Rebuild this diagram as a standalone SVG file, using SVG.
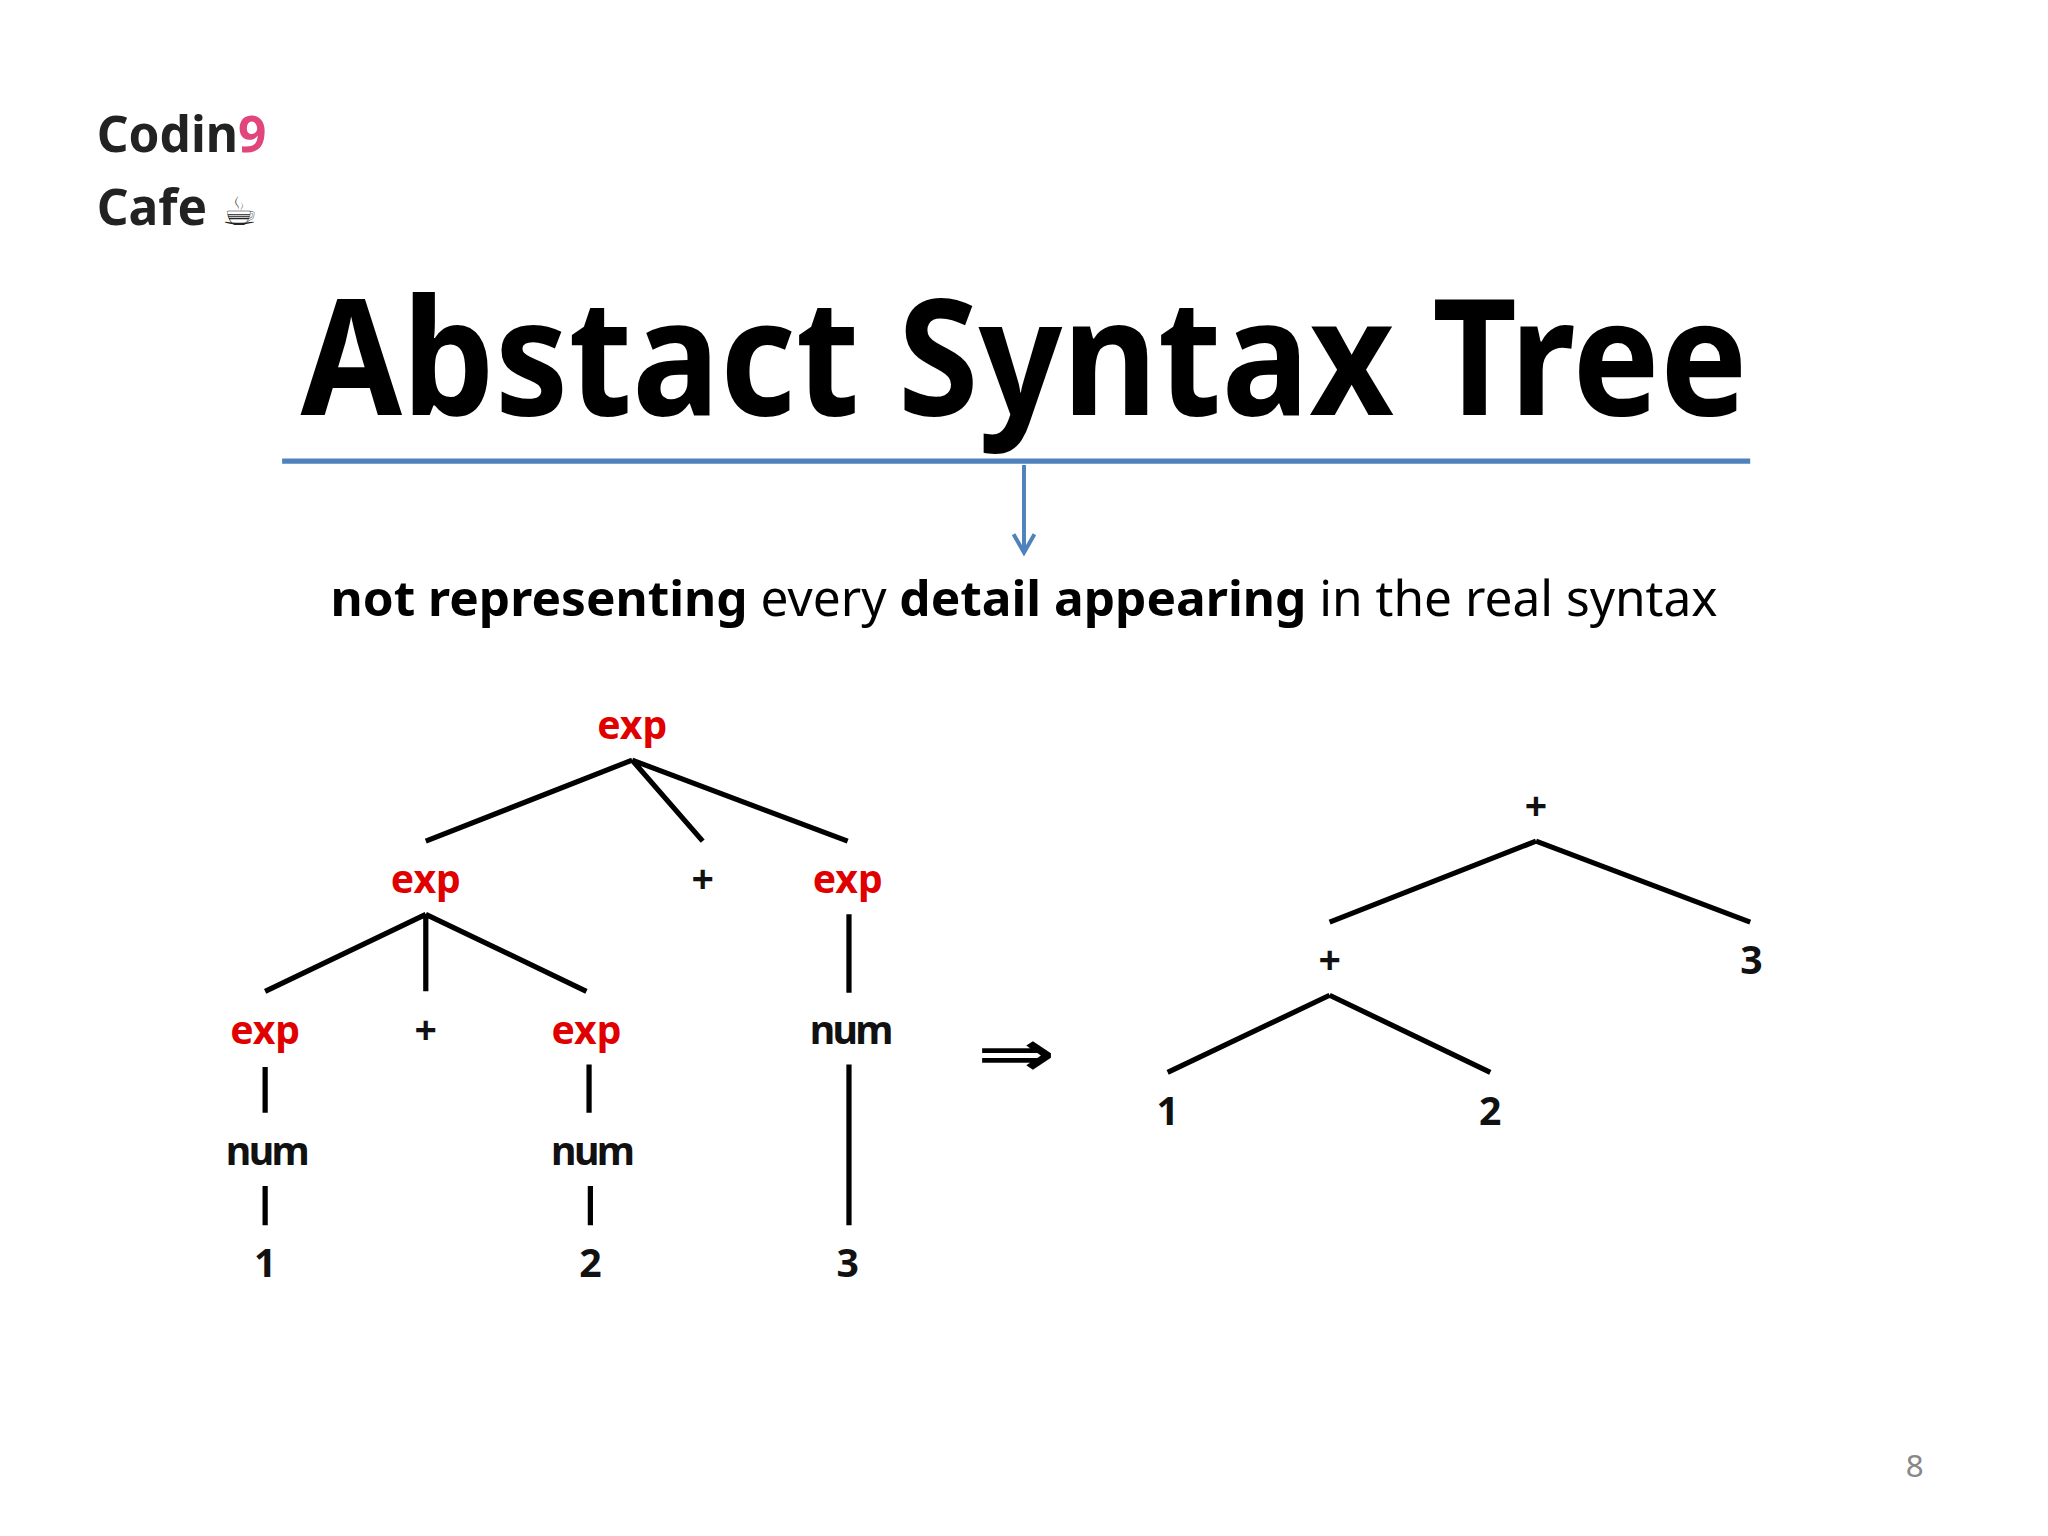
<svg xmlns="http://www.w3.org/2000/svg" width="2048" height="1536" viewBox="0 0 2048 1536">
<style>
text{font-family:"Noto Sans","Open Sans","DejaVu Sans",sans-serif}
.n{font-size:30px;font-weight:bold;text-anchor:middle}
.r{fill:#e00000}
.k{fill:#111}
.e{stroke:#000;stroke-width:4;fill:none}
</style>
<rect width="2048" height="1536" fill="#fff"/>
<g transform="scale(1.30612)">
<g id="logo"><text x="74" y="116" font-size="38" font-weight="bold" fill="#222">Codin<tspan fill="#e0457b">9</tspan></text><text x="74" y="172" font-size="38" font-weight="bold" fill="#222">Cafe</text><text x="170" y="172" font-size="30" fill="#222">☕</text></g>
<g id="title"><text x="230" y="318" font-size="124" font-weight="bold" textLength="1108" lengthAdjust="spacingAndGlyphs">Abstact Syntax Tree</text></g>
<g id="connectors">
<line x1="216" y1="353" x2="1340" y2="353" stroke="#4f81bd" stroke-width="4"/>
<line x1="784" y1="356" x2="784" y2="422" stroke="#4f81bd" stroke-width="3"/>
<path d="M776,409 L784,423 L792,409" fill="none" stroke="#4f81bd" stroke-width="3"/>
<g class="e">
<path d="M484,582 L326,644 M484,582 L538,644 M484,582 L649,644"/>
<path d="M326,700 L203,759 M326,700 L326,759 M326,700 L449,759"/>
<path d="M203,817 V852 M451,815 V852 M650,700 V760 M650,815 V938 M203,908 V938 M452,908 V938"/>
<path d="M1176,644 L1018,706 M1176,644 L1340,706 M1018,762 L894,821 M1018,762 L1141,821"/>
</g></g>
<g id="subtitle"><text x="253" y="472" font-size="37" textLength="1062" lengthAdjust="spacingAndGlyphs"><tspan font-weight="bold">not representing</tspan> every <tspan font-weight="bold">detail appearing</tspan> in the real syntax</text></g>
<g id="n1"><text class="n r" x="484" y="566">exp</text></g>
<g id="n2"><text class="n r" x="326" y="684">exp</text></g>
<g id="n3"><text class="n k" x="538" y="684">+</text></g>
<g id="n4"><text class="n r" x="649" y="684">exp</text></g>
<g id="n5"><text class="n r" x="203" y="799">exp</text></g>
<g id="n6"><text class="n k" x="326" y="799">+</text></g>
<g id="n7"><text class="n r" x="449" y="799">exp</text></g>
<g id="n8"><text class="n k" x="651" y="799" letter-spacing="-2">num</text></g>
<g id="n9"><text class="n k" x="204" y="892" letter-spacing="-2">num</text></g>
<g id="n10"><text class="n k" x="453" y="892" letter-spacing="-2">num</text></g>
<g id="n11"><text class="n k" x="203" y="978">1</text></g>
<g id="n12"><text class="n k" x="452" y="978">2</text></g>
<g id="n13"><text class="n k" x="649" y="978">3</text></g>
<g id="arrow2"><text x="778" y="826" font-size="60" font-weight="bold" text-anchor="middle" font-family="DejaVu Sans, sans-serif" transform="translate(778 812) scale(1.2 0.8) translate(-778 -812)">⇒</text></g>
<g id="m1"><text class="n k" x="1176" y="628">+</text></g>
<g id="m2"><text class="n k" x="1018" y="746">+</text></g>
<g id="m3"><text class="n k" x="1341" y="746">3</text></g>
<g id="m4"><text class="n k" x="894" y="861">1</text></g>
<g id="m5"><text class="n k" x="1141" y="861">2</text></g>
<g id="page"><text x="1466" y="1131" font-size="24" fill="#888" text-anchor="middle">8</text></g>
</g>
</svg>
